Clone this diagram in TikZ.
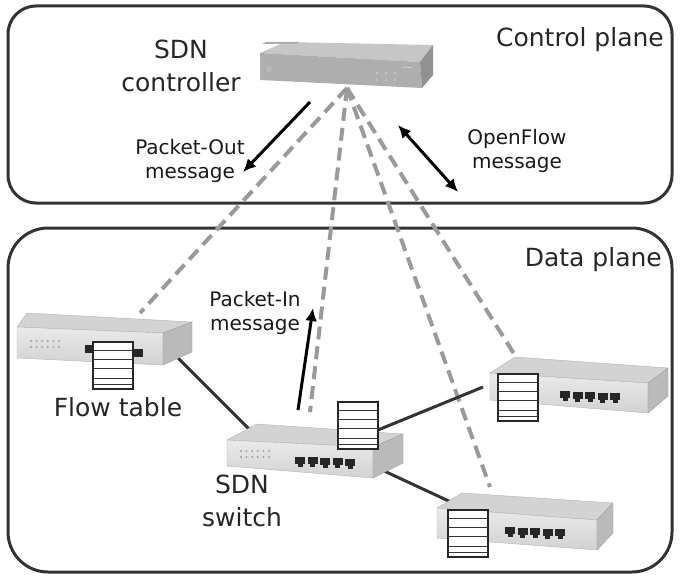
\documentclass[tikz,border=0pt]{standalone}
\usepackage{fontspec}
\setmainfont{DejaVu Sans}
\usetikzlibrary{arrows.meta}
\definecolor{swtop}{HTML}{D3D3D3}
\definecolor{swfrontA}{HTML}{EAEAEA}
\definecolor{swfrontB}{HTML}{D2D2D2}
\definecolor{swside}{HTML}{BABABA}
\definecolor{cttop}{HTML}{C6C6C6}
\definecolor{ctfront}{HTML}{AEAEAE}
\definecolor{ctside}{HTML}{919191}
\definecolor{frame}{HTML}{333333}
\definecolor{ctrlline}{HTML}{9A9A9A}
\begin{document}
\begin{tikzpicture}[x=1pt,y=-1pt,
  plane/.style={draw=frame, line width=3pt},
  lbl/.style={font=\fontsize{25}{33}\selectfont, align=center, inner sep=0pt, text=black!85},
  msg/.style={font=\fontsize{20}{24}\selectfont, align=center, inner sep=0pt, text=black!90},
  ctrl/.style={draw=ctrlline, line width=4pt, dash pattern=on 13pt off 7pt},
  link/.style={draw=frame, line width=3pt},
  flow/.style={-{Latex[length=13pt,width=12pt]}, line width=3pt, black},
  flowboth/.style={{Latex[length=13pt,width=12pt]}-{Latex[length=13pt,width=12pt]}, line width=3pt, black},
  topface/.style={fill=swtop, draw=swtop!85!black, line width=0.4pt},
  frontface/.style={top color=swfrontA, bottom color=swfrontB, draw=swfrontB!85!black, line width=0.4pt},
  sideface/.style={fill=swside, draw=swside!85!black, line width=0.4pt},
  ethport/.pic={\fill[black!85] (-5,-4) rectangle (5,3); \fill[black!85] (-2.5,3) rectangle (2.5,6);},
  leds/.pic={\foreach \i in {0,...,5} \foreach \j in {0,1} \fill[gray!75] (\i*5.2+\i*0.4,\j*6) circle (1.1);},
  ftable/.pic={\draw[fill=white, line width=1.3pt, draw=black!85] (0,0) rectangle (40,47);
    \foreach \f in {0.19,0.38,0.57,0.77,0.9} \draw[line width=1pt, black!80] (0,47*\f) -- (40,47*\f);}
]
\path[use as bounding box] (0,0) rectangle (682,578);

% the two planes
\draw[plane, rounded corners=28pt] (8,6) rectangle (672,203);
\draw[plane, rounded corners=40pt] (8,228) rectangle (672,572);
\node[lbl, anchor=east] (cplane) at (664,40) {Control plane};
\node[lbl, anchor=east] (dplane) at (662,260) {Data plane};

% attachment points
\coordinate (apex) at (347,88);
\coordinate (swL) at (140,313);
\coordinate (swC) at (310,412);
\coordinate (swBR) at (490,487);
\coordinate (swTR) at (516,357);
\coordinate (swLport) at (175,355);
\coordinate (swCin) at (253,433);
\coordinate (swCout1) at (378,430);
\coordinate (swCout2) at (382,470);
\coordinate (swTRin) at (483,387);
\coordinate (swBRin) at (453,503);

% control channels
\draw[ctrl] (apex) -- (swL);
\draw[ctrl] (apex) -- (swC);
\draw[ctrl] (apex) -- (swBR);
\draw[ctrl] (apex) -- (swTR);

% data links
\draw[link] (swLport) -- (swCin);
\draw[link] (swCout1) -- (swTRin);
\draw[link] (swCout2) -- (swBRin);

% SDN controller
\fill[cttop] (260,53) -- (285,42) -- (433,45) -- (420,62) -- cycle;
\fill[ctfront] (260,53) -- (420,62) -- (422,88) -- (260,80) -- cycle;
\fill[ctside] (420,62) -- (433,45) -- (433,75) -- (422,88) -- cycle;
\fill[gray!65] (262,44) -- (266,42) -- (300,42) -- (296,44) -- cycle;
\fill[gray!55] (269,69) circle (3);
\foreach \i in {0,1,2} \foreach \j in {0,1} \fill[gray!40] (377+\i*9,73+\j*7) circle (1.1);
\draw[gray!40, line width=1pt] (402,67) -- (412,67.5);
\node[lbl] (ctrltext) at (181,66) {SDN\\controller};

% messages
\coordinate (poA) at (310,102);
\coordinate (poB) at (243,172);
\draw[flow] (poA) -- (poB);
\node[msg] (potext) at (190,161) {Packet-Out\\message};
\coordinate (ofA) at (398,125);
\coordinate (ofB) at (458,192);
\draw[flowboth] (ofA) -- (ofB);
\node[msg] (oftext) at (517,151) {OpenFlow\\message};
\coordinate (piA) at (298,410);
\coordinate (piB) at (313,308);
\draw[flow] (piA) -- (piB);
\node[msg] (pitext) at (255,313) {Packet-In\\message};

% left switch
\fill[topface] (17,327) -- (27,313) -- (192,322) -- (163,333) -- cycle;
\shade[frontface] (17,327) -- (163,333) -- (163,365) -- (17,358) -- cycle;
\fill[sideface] (163,333) -- (192,322) -- (192,352) -- (163,365) -- cycle;
\pic at (31,341) {leds};
\fill[black!85] (85,345) rectangle (95,353);
\fill[black!85] (132,349) rectangle (143,357);
\pic at (93,342) {ftable};
\node[lbl] (fttext) at (118,407) {Flow table};

% central SDN switch
\fill[topface] (227,440) -- (257,424) -- (403,434) -- (373,447) -- cycle;
\shade[frontface] (227,440) -- (373,447) -- (373,478) -- (227,466) -- cycle;
\fill[sideface] (373,447) -- (403,434) -- (403,463) -- (373,478) -- cycle;
\pic at (241,451) {leds};
\foreach \k in {0,...,4} \pic at (300+\k*12.5,461+\k*0.4) {ethport};
\pic at (338,402) {ftable};
\node[lbl] (swtext) at (242,501) {SDN\\switch};

% upper right switch
\fill[topface] (490,373) -- (515,357) -- (668,368) -- (648,383) -- cycle;
\shade[frontface] (490,373) -- (648,383) -- (648,413) -- (490,400) -- cycle;
\fill[sideface] (648,383) -- (668,368) -- (668,396) -- (648,413) -- cycle;
\foreach \k in {0,...,4} \pic at (565+\k*12.5,395+\k*0.5) {ethport};
\pic at (498,374) {ftable};

% lower right switch
\fill[topface] (437,508) -- (462,493) -- (613,503) -- (597,520) -- cycle;
\shade[frontface] (437,508) -- (597,520) -- (597,550) -- (437,538) -- cycle;
\fill[sideface] (597,520) -- (613,503) -- (613,533) -- (597,550) -- cycle;
\foreach \k in {0,...,4} \pic at (510+\k*12.5,531+\k*0.5) {ethport};
\pic at (448,510) {ftable};
\end{tikzpicture}
\end{document}
